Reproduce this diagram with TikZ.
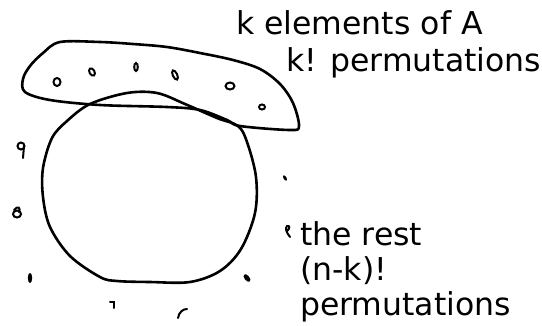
\documentclass[tikz,border=0pt]{standalone}
\usepackage{fontspec}
\setmainfont{DejaVu Sans}
\begin{document}
\begin{tikzpicture}[x=1pt,y=-1pt,
  stroke/.style={line width=2.6pt,line join=round,line cap=round},
  scrib/.style={line width=2pt,line cap=round},
  lbl/.style={anchor=base west,inner sep=0pt,font=\fontsize{31.5}{38}\selectfont}]
\useasboundingbox (0,0) rectangle (542,325);
% elongated blob (k elements)
\draw[stroke] plot[smooth cycle,tension=0.55] coordinates {
 (60,42) (100,42) (133,44) (167,47) (200,53) (233,60) (260,69) (280,84)
 (293,103) (299,126) (290,130) (240,126) (227,120) (200,110) (167,107)
 (100,105) (50,100) (25,92) (23,79) (30,66) (43,53)};
% big circle (the rest)
\draw[stroke] plot[smooth cycle,tension=0.55] coordinates {
 (127,93) (157,93) (185,104) (217,118) (238,126) (247,142) (256,177)
 (255,213) (241,249) (220,271) (190,282) (150,282) (117,281) (100,277)
 (70,256) (50,227) (43,197) (43,168) (52,138) (67,121) (90,104)};
% marks inside blob
\draw[scrib] (57,82) ellipse[x radius=3.5,y radius=4];
\draw[scrib,rotate around={30:(92,72)}] (92,72) ellipse[x radius=2.5,y radius=4];
\draw[scrib] (136,67) ellipse[x radius=1.8,y radius=4];
\draw[scrib,rotate around={25:(175,75)}] (175,75) ellipse[x radius=2.2,y radius=5];
\draw[scrib] (230,86) ellipse[x radius=4.5,y radius=3.5];
\draw[scrib] (262,107) ellipse[x radius=3,y radius=2.5];
% marks outside
\draw[scrib] (21,146) circle[radius=3.5];
\draw[scrib] (24,146) -- (23,158);
\draw[scrib] (17,214) ellipse[x radius=4,y radius=3.5];
\draw[scrib] (14,210) .. controls (18,205) and (21,208) .. (19,212);
\fill (30,278) ellipse[x radius=2.2,y radius=5];
\draw[scrib] (110,302) -- (114,302) -- (114,308);
\draw[scrib] (178,318) .. controls (179,312) and (183,309) .. (187,309);
\fill[rotate around={40:(247,278)}] (247,278) ellipse[x radius=2.5,y radius=4.5];
\fill[rotate around={30:(285,178)}] (285,178) ellipse[x radius=1.5,y radius=3];
\draw[scrib] (290,237) .. controls (286,232) and (285,228) .. (287,226) .. controls (290,225) and (290,229) .. (287,231);
% labels
\node[lbl] (kel) at (236,34) {k elements of A};
\node[lbl] (kperm) at (286,71) {k! permutations};
\node[lbl] (rest) at (300,245) {the rest};
\node[lbl] (nk) at (300,280) {(n-k)!};
\node[lbl] (perm) at (300,315) {permutations};
\end{tikzpicture}
\end{document}
